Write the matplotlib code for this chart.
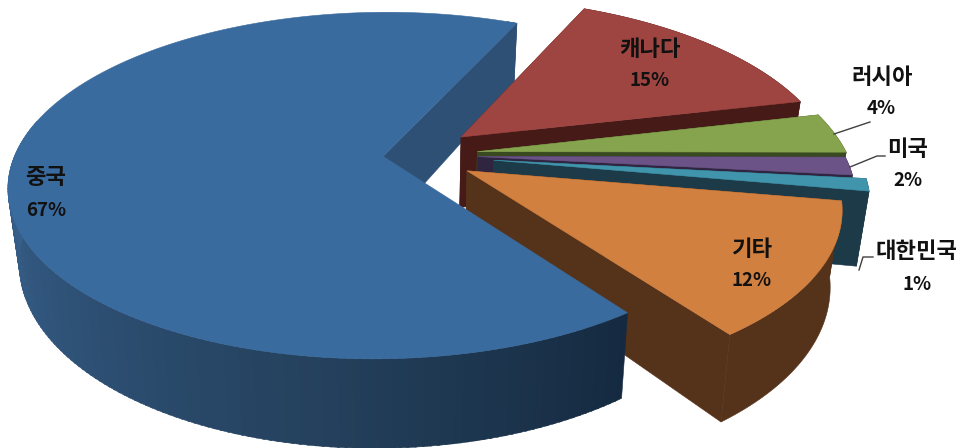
import matplotlib
matplotlib.use("Agg")
import matplotlib.pyplot as plt
import numpy as np
from matplotlib.colors import to_rgb
from matplotlib.patches import Polygon

plt.rcParams['font.family'] = ['Noto Sans CJK KR', 'DejaVu Sans']

# clockwise from the top
names = ['캐나다', '러시아', '미국', '대한민국', '기타', '중국']
shares = [14.5, 3.6, 1.6, 1.1, 12.4, 66.8]
percent_labels = ['15%', '4%', '2%', '1%', '12%', '67%']
explode = [0.167, 0.173, 0.173, 0.216, 0.166, 0.084]
radius_u = [1.01, 1.0, 0.99, 0.98, 0.97, 0.99]
radius_v = [1.0, 1.0, 0.99, 0.98, 0.93, 0.96]
arc_shift_u = [0, 0, 0, 0, 0, -0.005]
arc_shift_v = [0, 0, 0, 0, 0, -0.03]
top_colors = ['#9e4441', '#86a34d', '#6b5388', '#4095ad', '#d2803f', '#3a6b9e']
side_colors = ['#451a17', '#3a4a20', '#2f2541', '#1c3a47', '#55321a', '#2f5075']

start_angle = 65.0

# projection of the flat pie into the picture
cx, cy, rx, ry, persp = 414.0, 155.0, 370.0, 175.0, 0.208
depth, shrink = 72.0, 0.972


def top_plane(u, v):
    w = 1 - persp * v
    return cx + rx * u / w, cy + ry * v / w


def bottom_plane(u, v):
    x, y = top_plane(u, v)
    w = 1 - persp * v
    return cx + (x - cx) * shrink, y + depth / w


def to_xy(plane, u, v):
    x, y = plane(np.asarray(u, float), np.asarray(v, float))
    return np.column_stack([x, y])


def face(ax, pts, color, z):
    ax.add_patch(Polygon(pts, closed=True, facecolor=color, edgecolor=color, linewidth=0.4, zorder=z))


class Slice:
    def __init__(self, off, ru, rv, shift):
        self.off, self.ru, self.rv, self.shift = off, ru, rv, shift

    def arc(self, a1, a2):
        t = np.radians(np.linspace(a1, a2, max(2, int(abs(a2 - a1)) + 2)))
        return (self.off[0] + self.shift[0] + self.ru * np.cos(t),
                self.off[1] + self.shift[1] - self.rv * np.sin(t))

    def cut_face(self, ax, angle, color, z):
        u, v = self.arc(angle, angle)
        us = [self.off[0], u[0]]
        vs = [self.off[1], v[0]]
        pts = np.vstack([to_xy(top_plane, us, vs), to_xy(bottom_plane, us, vs)[::-1]])
        face(ax, pts, color, z)

    def rim(self, ax, a1, a2, color, z):
        u, v = self.arc(a1, a2)
        pts = np.vstack([to_xy(top_plane, u, v), to_xy(bottom_plane, u, v)[::-1]])
        face(ax, pts, color, z)

    def top(self, ax, a1, a2, color, z):
        u, v = self.arc(a1, a2)
        us = np.concatenate([[self.off[0]], u])
        vs = np.concatenate([[self.off[1]], v])
        face(ax, to_xy(top_plane, us, vs), color, z)


def shaded_rim(ax, s, a1, a2, z):
    # side of the big slice gets darker towards the right, a1 is the right end
    fracs = [0.0, 0.3, 0.65, 1.0]
    rgb = np.array([to_rgb(c) for c in ['#152a40', '#24405c', '#30547a', '#3a6693']])
    edges = np.arange(a1, a2 - 1.0, -1.0)
    for e0, e1 in zip(edges[:-1], edges[1:]):
        f = (a1 - e0) / (a1 - a2)
        c = [np.interp(f, fracs, rgb[:, i]) for i in range(3)]
        s.rim(ax, e0, e1 - 0.3, c, z)


fig = plt.figure(figsize=(9.63, 4.48), dpi=100)
ax = fig.add_axes([0, 0, 1, 1])
ax.set_xlim(0, 963)
ax.set_ylim(448, 0)
ax.axis('off')

total = sum(shares)
angle = start_angle
for i, share in enumerate(shares):
    a1 = angle
    a2 = angle - share / total * 360
    angle = a2
    mid = np.radians((a1 + a2) / 2)
    s = Slice((explode[i] * np.cos(mid), -explode[i] * np.sin(mid)), radius_u[i], radius_v[i],
              (arc_shift_u[i], arc_shift_v[i]))
    z = i + 2
    if names[i] == '중국':
        # cut face behind the other slices, the front of the rim over them
        s.cut_face(ax, a2, side_colors[i], 1)
        s.rim(ax, a2 + 2, a2, side_colors[i], 1)
        shaded_rim(ax, s, a1, -190.0, 10)
        s.top(ax, a1, a2, top_colors[i], 11)
    else:
        s.cut_face(ax, a1, side_colors[i], z)
        s.cut_face(ax, a2, side_colors[i], z)
        s.rim(ax, a1, a2, side_colors[i], z)
        s.top(ax, a1, a2, top_colors[i], z)

# leader lines of the small slices
leader_color = '#404040'
ax.plot([834, 870], [134, 122], color=leader_color, lw=1, zorder=12)
ax.plot([850, 877, 885], [167, 156, 156], color=leader_color, lw=1, zorder=12)
ax.plot([859, 863, 873], [270, 257, 257], color=leader_color, lw=1, zorder=12)

name_pos = [(650, 50), (882, 78), (908, 150), (917, 252), (752, 249), (46, 178)]
pct_pos = [(650, 80), (881, 109), (908, 181), (917, 284), (752, 280), (46, 210)]
for n, p, np_, pp in zip(names, percent_labels, name_pos, pct_pos):
    ax.text(np_[0], np_[1], n, fontsize=16, fontweight='bold', color='#111111',
            ha='center', va='center', zorder=20)
    ax.text(pp[0], pp[1], p, fontsize=13.5, fontweight='bold', color='#111111',
            ha='center', va='center', zorder=20)

fig.savefig('out.png', dpi=100, facecolor='white')
